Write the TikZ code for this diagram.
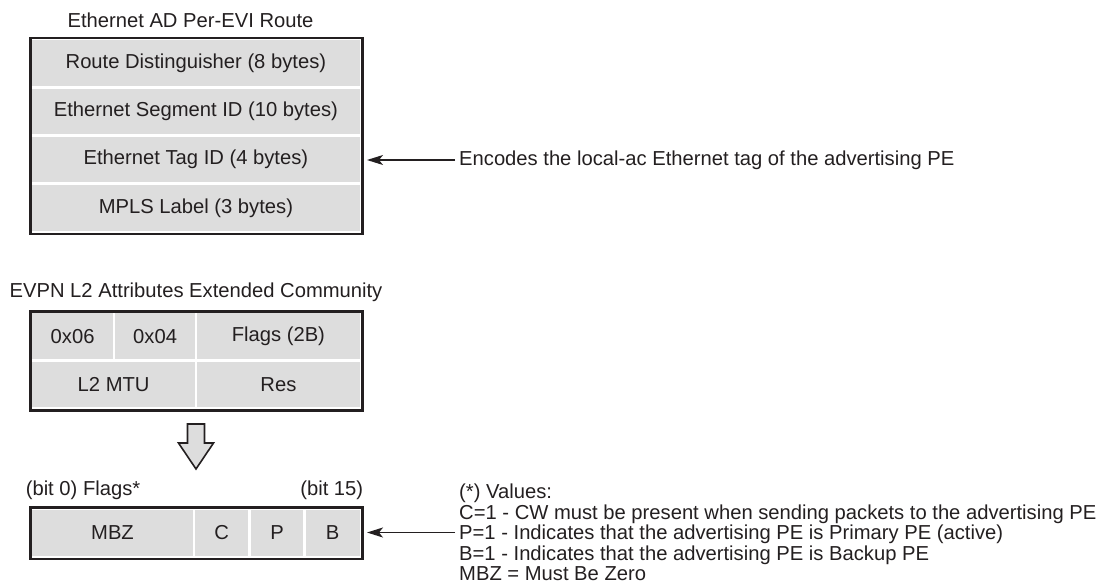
\documentclass[tikz,border=0pt]{standalone}
\usepackage{fontspec}
\setmainfont{Liberation Sans}
\usetikzlibrary{arrows.meta}
\definecolor{cellgray}{RGB}{221,221,221}
\definecolor{ink}{RGB}{35,31,32}
\newcommand{\cellbox}[6]{\node[cell, minimum width=#4pt, minimum height=#5pt] (#1) at (#2,#3) {#6};}
\tikzset{
  cell/.style={fill=cellgray, draw=none, inner sep=0pt, outer sep=0pt, anchor=north west, text=ink},
  frame/.style={draw=ink, line width=2.6pt, inner sep=0pt, outer sep=0pt, anchor=north west},
  lbl/.style={inner sep=0pt, text=ink},
  ptr/.style={draw=ink, line width=1.3pt, -{Stealth[length=16pt,width=10pt,inset=4pt]}},
  blockarrow/.style={draw=ink, fill=cellgray, line width=1.6pt, line join=miter}
}
\begin{document}
\begin{tikzpicture}[x=1pt, y=-1pt, font=\fontsize{20.2}{20.4}\selectfont]
\useasboundingbox (0,0) rectangle (1101,584);

% ---------- Top: Ethernet AD Per-EVI Route ----------
\node[lbl] (titleA) at (190.5,20) {Ethernet AD Per-EVI Route};
\node[frame, minimum width=332.3pt, minimum height=196pt] (frameA) at (30.2,38) {};
\cellbox{rd}{32.3}{40}{327.2}{46.3}{Route Distinguisher (8 bytes)}
\cellbox{esi}{32.3}{89}{327.2}{45.3}{Ethernet Segment ID (10 bytes)}
\cellbox{tag}{32.3}{137}{327.2}{45.3}{Ethernet Tag ID (4 bytes)}
\cellbox{mpls}{32.3}{185.3}{327.2}{45.7}{MPLS Label (3 bytes)}

\node[lbl, anchor=west, inner xsep=4pt] (noteA) at (455,160) {Encodes the local-ac Ethernet tag of the advertising PE};
\draw[ptr, shorten >=4.5pt] (noteA.west) -- (noteA.west -| frameA.east);

% ---------- Middle: EVPN L2 Attributes Extended Community ----------
\node[lbl] (titleB) at (196,292) {EVPN L2 Attributes Extended Community};
\node[frame, minimum width=332.3pt, minimum height=99.4pt] (frameB) at (30.2,311.3) {};
\cellbox{t06}{32.3}{313.3}{80.7}{45.7}{0x06}
\cellbox{t04}{115.3}{313.3}{79.7}{45.7}{0x04}
\cellbox{flags}{197.3}{313.3}{162.2}{45.7}{Flags (2B)}
\cellbox{mtu}{32.3}{361.7}{162.7}{45.6}{L2 MTU}
\cellbox{res}{197.3}{361.7}{162.2}{45.6}{Res}

% block arrow
\draw[blockarrow] (187.5,424) -- (204.5,424) -- (204.5,443) -- (213.5,443)
  -- (196,469) -- (178.5,443) -- (187.5,443) -- cycle;

% ---------- Bottom: Flags ----------
\node[lbl, anchor=west] (bit0) at (25.6,490) {(bit 0) Flags*};
\node[lbl, anchor=east] (bit15) at (363.4,490) {(bit 15)};
\node[frame, minimum width=332.3pt, minimum height=51.7pt] (frameC) at (30.2,507.3) {};
\cellbox{mbz}{32.3}{510}{160.4}{45.7}{MBZ}
\cellbox{fc}{195}{510}{53.3}{45.7}{C}
\cellbox{fp}{250.7}{510}{52.6}{45.7}{P}
\cellbox{fb}{305.7}{510}{53.8}{45.7}{B}

\node[lbl, anchor=west, inner xsep=4pt, align=left] (noteC) at (455,532.5)
  {(*) Values:\\
   C=1 - CW must be present when sending packets to the advertising PE\\
   P=1 - Indicates that the advertising PE is Primary PE (active)\\
   B=1 - Indicates that the advertising PE is Backup PE\\
   MBZ = Must Be Zero};
\draw[ptr, shorten >=4.5pt] (noteC.west) -- (noteC.west -| frameC.east);
\end{tikzpicture}
\end{document}
